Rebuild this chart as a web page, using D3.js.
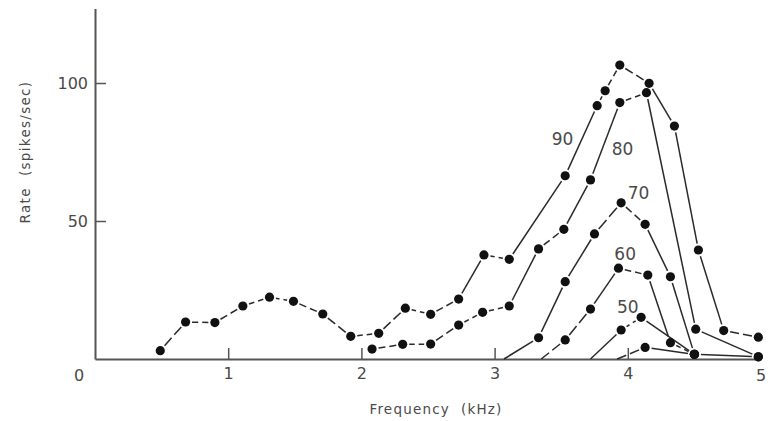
<!DOCTYPE html>
<html>
<head>
<meta charset="utf-8">
<script src="https://cdn.jsdelivr.net/npm/d3@7"></script>
<style>
  body { margin: 0; background: #fff; }
  svg text { font-family: "DejaVu Sans", sans-serif; fill: #4a4a4a; white-space: pre; }
</style>
</head>
<body>
<div id="chart"></div>
<script>
// Rate vs frequency, one curve per stimulus level (dB)
const levels = [90, 80, 70, 60, 50, 40];

const freq90 = [0.49, 0.68, 0.90, 1.11, 1.31, 1.49, 1.71, 1.92, 2.13, 2.33, 2.52, 2.73, 2.92, 3.11, 3.53, 3.77, 3.83, 3.94, 4.16, 4.35, 4.53, 4.72, 4.98];
const rate90 = [3.0, 13.4, 13.2, 19.2, 22.4, 20.9, 16.3, 8.2, 9.3, 18.4, 16.2, 21.7, 37.7, 36.1, 66.4, 91.8, 97.2, 106.5, 99.9, 84.4, 39.5, 10.3, 7.9];

const freq80 = [2.08, 2.31, 2.52, 2.73, 2.91, 3.11, 3.33, 3.52, 3.72, 3.94, 4.14, 4.51, 4.98];
const rate80 = [3.6, 5.3, 5.4, 12.3, 16.9, 19.2, 39.9, 47.0, 64.9, 92.9, 96.5, 10.8, 0.8];

const freq70 = [3.07, 3.33, 3.53, 3.75, 3.95, 4.13, 4.32, 4.50, 4.98];
const rate70 = [0, 7.7, 28.0, 45.3, 56.6, 48.8, 29.8, 1.7, 0.8];

const freq60 = [3.35, 3.53, 3.72, 3.93, 4.15, 4.32, 4.50];
const rate60 = [0, 6.9, 18.1, 32.9, 30.4, 5.9, 1.7];

const freq50 = [3.72, 3.95, 4.10, 4.50];
const rate50 = [0, 10.5, 15.1, 1.7];

const freq40 = [3.92, 4.13, 4.50];
const rate40 = [0, 4.2, 1.7];

// curve labels (in data units), the lowest curve has none
const labelText = ["90", "80", "70", "60", "50"];
const labelFreq = [3.51, 3.96, 4.08, 3.98, 4.00];
const labelRate = [79.7, 76.0, 60.3, 38.0, 18.9];

const xTicks = [1, 2, 3, 4, 5];
const yTicks = [50, 100];

const freqs = [freq90, freq80, freq70, freq60, freq50, freq40];
const rates = [rate90, rate80, rate70, rate60, rate50, rate40];
const series = levels.map((lv, i) => ({
  level: lv,
  points: freqs[i].map((f, j) => ({ f: f, r: rates[i][j] }))
}));

const width = 768, height = 421;
const svg = d3.select('#chart').append('svg')
    .attr('width', width)
    .attr('height', height);

const x = d3.scaleLinear().domain([0, 5]).range([95, 761]);
const y = d3.scaleLinear().domain([0, 100]).range([359, 83]);
const yTop = 127;

// axes
const xAxis = svg.append('g')
    .attr('transform', `translate(0,${y(0)})`)
    .call(d3.axisBottom(x).tickValues(xTicks.slice(0, 4)).tickFormat(d3.format('d'))
      .tickSize(-11).tickSizeOuter(0).tickPadding(9));
xAxis.select('.domain').attr('stroke', '#555').attr('stroke-width', 2);
xAxis.selectAll('.tick line').attr('stroke', '#555').attr('stroke-width', 1.5);
xAxis.selectAll('.tick text').attr('font-size', 16).attr('fill', '#4a4a4a');

// the "5" label sits under the end of the axis, with no tick mark
svg.append('text')
    .attr('x', x(5))
    .attr('y', y(0) + 22)
    .attr('text-anchor', 'middle')
    .attr('font-size', 16)
    .text(xTicks[4]);

// origin label
svg.append('text')
    .attr('x', x(0) - 16)
    .attr('y', y(0) + 22)
    .attr('text-anchor', 'middle')
    .attr('font-size', 16)
    .text('0');

const yAxis = svg.append('g')
    .attr('transform', `translate(${x(0)},0)`)
    .call(d3.axisLeft(y.copy().domain([0, yTop]).range([y(0), y(yTop)]))
      .tickValues(yTicks).tickSize(-11).tickSizeOuter(0).tickPadding(7));
yAxis.select('.domain').attr('stroke', '#555').attr('stroke-width', 2);
yAxis.selectAll('.tick line').attr('stroke', '#555').attr('stroke-width', 1.5);
yAxis.selectAll('.tick text').attr('font-size', 16).attr('fill', '#4a4a4a');

// axis titles
svg.append('text')
    .attr('x', 436)
    .attr('y', 414)
    .attr('text-anchor', 'middle')
    .attr('font-size', 13.5)
    .attr('letter-spacing', 1.2)
    .text('Frequency  (kHz)');

svg.append('text')
    .attr('transform', `translate(30,152) rotate(-90)`)
    .attr('text-anchor', 'middle')
    .attr('font-size', 13.5)
    .attr('letter-spacing', 1.3)
    .text('Rate  (spikes/sec)');

// line segments stop short of each dot, like the hand-inked original;
// short segments get one small break in the middle
const dotR = 4.6;
const gap = 6.5;
const segs = [];
series.forEach(s => {
  for (let i = 0; i < s.points.length - 1; i++) {
    const a = s.points[i], b = s.points[i + 1];
    const x0 = x(a.f), y0 = y(a.r), x1 = x(b.f), y1 = y(b.r);
    const len = Math.hypot(x1 - x0, y1 - y0);
    const ux = (x1 - x0) / len, uy = (y1 - y0) / len;
    const g0 = a.r > 0 ? gap : 0;
    const g1 = b.r > 0 ? gap : 0;
    const l = len - g0 - g1;
    if (l <= 1) continue;
    segs.push({
      x1: x0 + ux * g0, y1: y0 + uy * g0, x2: x1 - ux * g1, y2: y1 - uy * g1,
      dash: l < 30 ? `${(l - 4) / 2},4` : null
    });
  }
});

svg.append('g').selectAll('line')
    .data(segs)
  .join('line')
    .attr('x1', d => d.x1)
    .attr('y1', d => d.y1)
    .attr('x2', d => d.x2)
    .attr('y2', d => d.y2)
    .attr('stroke', '#2a2a2a')
    .attr('stroke-width', 1.5)
    .attr('stroke-dasharray', d => d.dash);

svg.append('g').selectAll('circle')
    .data(series.flatMap(s => s.points.filter(p => p.r > 0)))
  .join('circle')
    .attr('cx', d => x(d.f))
    .attr('cy', d => y(d.r))
    .attr('r', dotR)
    .attr('fill', '#111');

// level labels
svg.append('g').selectAll('text')
    .data(labelText)
  .join('text')
    .attr('x', (d, i) => x(labelFreq[i]))
    .attr('y', (d, i) => y(labelRate[i]))
    .attr('dy', '0.36em')
    .attr('text-anchor', 'middle')
    .attr('font-size', 17)
    .text(d => d);
</script>
</body>
</html>
